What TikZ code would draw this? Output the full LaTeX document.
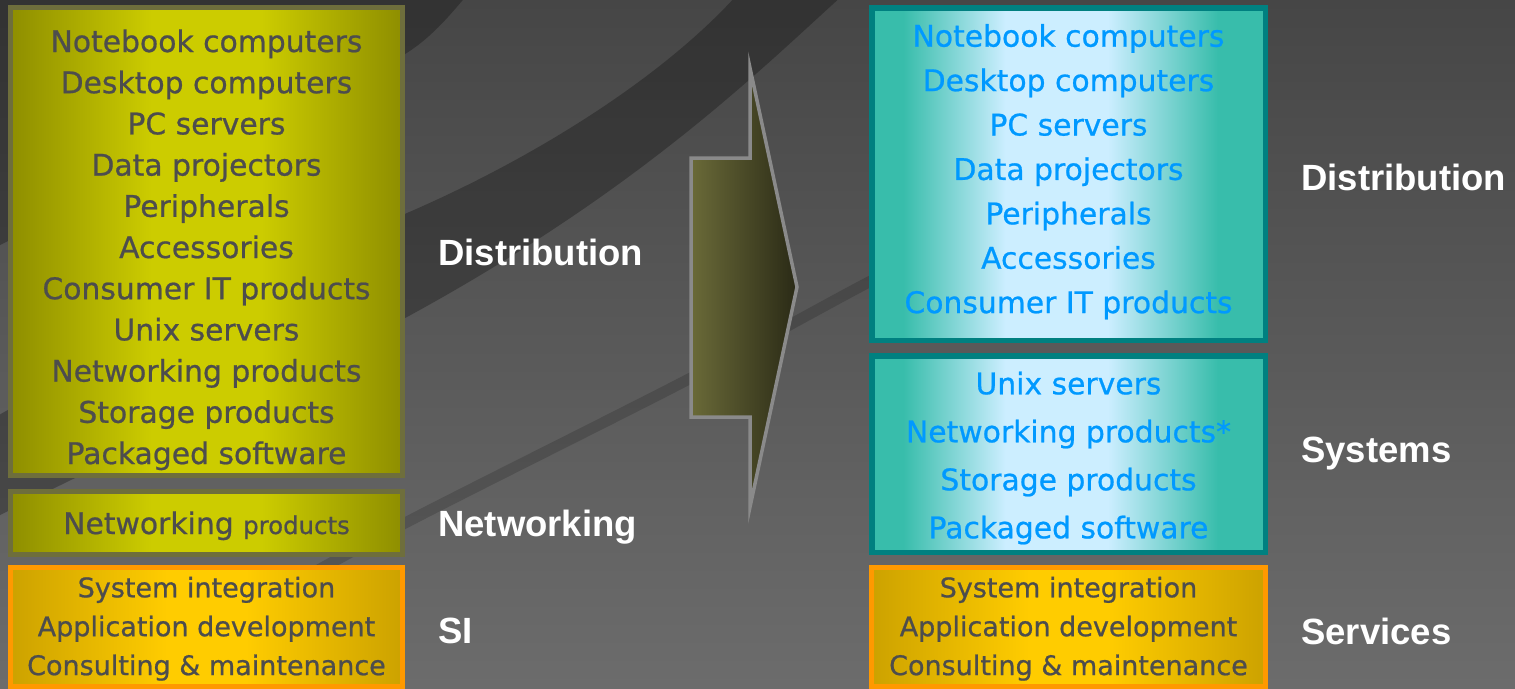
\documentclass[tikz,border=0pt]{standalone}
\usepackage{fontspec}
\setmainfont{DejaVu Sans}[FakeBold=0.7]
\newfontfamily\labelfont{Liberation Sans}
\usetikzlibrary{shadings}

% palette
\definecolor{bgtop}{HTML}{464646}
\definecolor{bgbot}{HTML}{6C6C6C}
\definecolor{yedge}{HTML}{8E8E00}
\definecolor{ymid}{HTML}{CCCC00}
\definecolor{yline}{HTML}{6E6E3C}
\definecolor{tedge}{HTML}{38BDAB}
\definecolor{tmid}{HTML}{CCEEFF}
\definecolor{tline}{HTML}{008080}
\definecolor{oedge}{HTML}{CCA200}
\definecolor{omid}{HTML}{FFCC00}
\definecolor{oline}{HTML}{FF9900}
\definecolor{greytext}{HTML}{4D4D4D}
\definecolor{bluetext}{HTML}{0099FF}
\definecolor{arrowL}{HTML}{6A6A38}
\definecolor{arrowR}{HTML}{2A2A16}
\definecolor{arrowline}{HTML}{8A8A8A}

% left-right fills of the three box families
\pgfdeclarehorizontalshading{yshade}{100bp}{color(0bp)=(yedge); color(25bp)=(yedge);
  color(43bp)=(ymid); color(57bp)=(ymid); color(75bp)=(yedge); color(100bp)=(yedge)}
\pgfdeclarehorizontalshading{tshade}{100bp}{color(0bp)=(tedge); color(25bp)=(tedge);
  color(29bp)=(tedge); color(42bp)=(tmid); color(55bp)=(tmid); color(69bp)=(tedge);
  color(75bp)=(tedge); color(100bp)=(tedge)}
\pgfdeclarehorizontalshading{oshade}{100bp}{color(0bp)=(oedge); color(25bp)=(oedge);
  color(45bp)=(omid); color(55bp)=(omid); color(75bp)=(oedge); color(100bp)=(oedge)}

\tikzset{
  panel/.style={rectangle, inner sep=0pt, line width=5pt},
  ybox/.style={panel, draw=yline, shading=yshade},
  tbox/.style={panel, draw=tline, line width=5.5pt, shading=tshade},
  obox/.style={panel, draw=oline, shading=oshade},
  item/.style={inner sep=0pt, anchor=base, font=\fontsize{29.8}{34}\selectfont},
  yitem/.style={item, text=greytext},
  titem/.style={item, text=bluetext},
  oitem/.style={inner sep=0pt, anchor=base, text=greytext, font=\fontsize{27}{31}\selectfont},
  tag/.style={inner sep=0pt, anchor=base west, text=white,
    font=\labelfont\bfseries\fontsize{36.5}{40}\selectfont},
  band/.style={fill=black, fill opacity=0.27},
}

\begin{document}
\begin{tikzpicture}[x=1pt, y=-1pt]
\useasboundingbox (0,0) rectangle (1515,688);

% backdrop with its sweeping bands
\shade[top color=bgtop, bottom color=bgbot] (0,0) rectangle (1515,688);
\begin{scope}
  \clip (0,0) rectangle (1515,688);
  \fill[band] (-10,250) .. controls (150,170) and (330,90) .. (400,57)
    .. controls (430,40) and (450,15) .. (467,-5) -- (-10,-5) -- cycle;
  \fill[band] (-10,420) .. controls (150,330) and (300,260) .. (407,213)
    .. controls (530,160) and (660,80) .. (737,-5) -- (843,-5)
    .. controls (760,70) and (640,190) .. (407,317)
    .. controls (280,380) and (130,450) .. (-10,520) -- cycle;
  \draw[black, opacity=0.16, line width=11pt]
    plot[smooth] coordinates {(250,608) (407,522) (687,380) (867,283) (1010,210)};
\end{scope}

% ---------- left column ----------
\node[ybox, minimum width=392pt, minimum height=468pt] (boxA) at (206.5,241.5) {};
\foreach \t [count=\i] in {Notebook computers, Desktop computers, PC servers,
  Data projectors, Peripherals, Accessories, Consumer IT products, Unix servers,
  Networking products, Storage products, Packaged software}
  \node[yitem] (a\i) at (206.5,{52+41.2*(\i-1)}) {\t};

\node[ybox, minimum width=392pt, minimum height=63pt] (boxB) at (206.5,523) {};
\node[yitem] (b1) at (206.5,534)
  {Networking {\fontsize{24.4}{28}\selectfont products}};

\node[obox, minimum width=392pt, minimum height=119pt] (boxC) at (206.5,627) {};
\foreach \t [count=\i] in {System integration, Application development,
  Consulting \& maintenance}
  \node[oitem] (c\i) at (206.5,{597.3+38.9*(\i-1)}) {\t};

\node[tag] (tagA) at (438,265) {Distribution};
\node[tag] (tagB) at (438,536.5) {Networking};
\node[tag] (tagC) at (438,643.5) {SI};

% ---------- transition arrow ----------
\shade[left color=arrowL, right color=arrowR]
  (691,158) -- (750,158) -- (750,68) -- (797,287) -- (750,507) -- (750,417) -- (691,417) -- cycle;
\draw[arrowline, line width=3.5pt, line join=miter]
  (691,158) -- (750,158) -- (750,68) -- (797,287) -- (750,507) -- (750,417) -- (691,417) -- cycle;

% ---------- right column ----------
\node[tbox, minimum width=393.5pt, minimum height=332.5pt] (boxD) at (1068.5,174) {};
\foreach \t [count=\i] in {Notebook computers, Desktop computers, PC servers,
  Data projectors, Peripherals, Accessories, Consumer IT products}
  \node[titem] (d\i) at (1068.5,{46.7+44.4*(\i-1)}) {\t};

\node[tbox, minimum width=393.5pt, minimum height=196.5pt] (boxE) at (1068.5,454) {};
\foreach \t [count=\i] in {Unix servers, Networking products*, Storage products,
  Packaged software}
  \node[titem] (e\i) at (1068.5,{394.3+48*(\i-1)}) {\t};

\node[obox, minimum width=394pt, minimum height=119pt] (boxF) at (1068.5,627) {};
\foreach \t [count=\i] in {System integration, Application development,
  Consulting \& maintenance}
  \node[oitem] (f\i) at (1068.5,{597.3+38.9*(\i-1)}) {\t};

\node[tag] (tagD) at (1301,190) {Distribution};
\node[tag] (tagE) at (1301,462) {Systems};
\node[tag] (tagF) at (1301,644) {Services};
\end{tikzpicture}
\end{document}
